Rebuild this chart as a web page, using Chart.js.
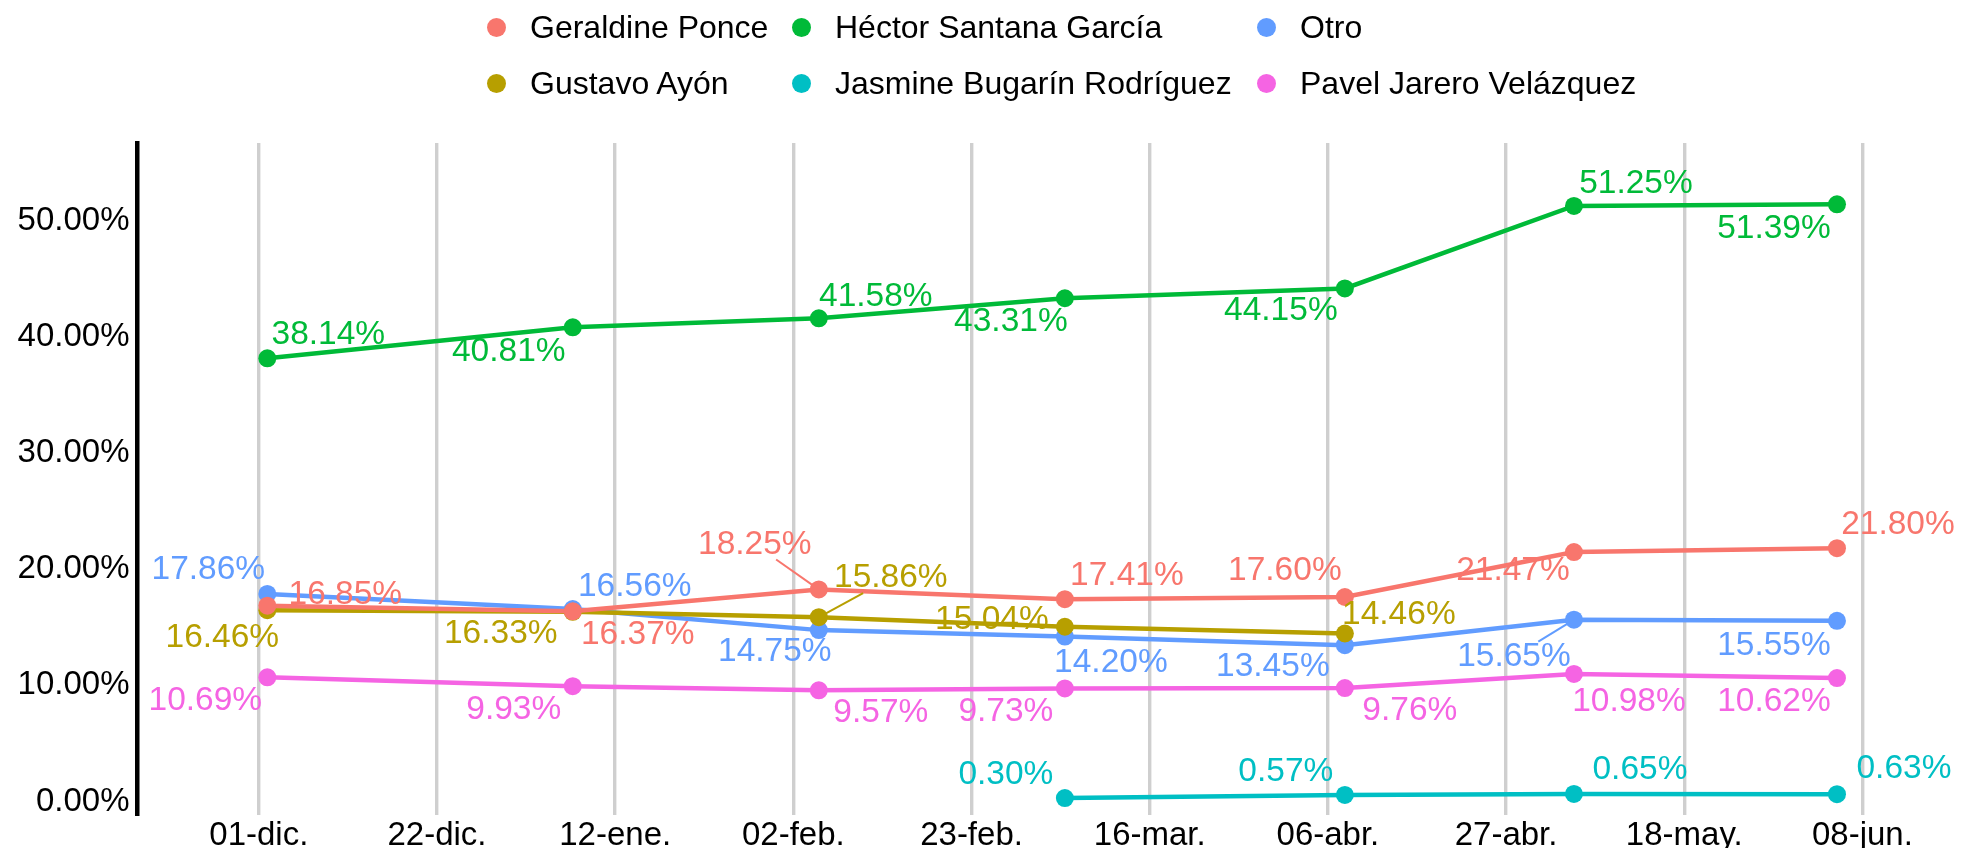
<!DOCTYPE html>
<html>
<head>
<meta charset="utf-8">
<script src="https://cdn.jsdelivr.net/npm/chart.js@4"></script>
<style>
  body { margin: 0; background: #fff; }
  #wrap { position: relative; width: 1969px; height: 848px; }
  #legend {
    position: absolute; left: 487px; top: -1px;
    display: grid; grid-template-columns: 305px 465px auto; grid-template-rows: 56px 56px;
    grid-auto-flow: column;
    font-family: 'Liberation Sans', Arial, sans-serif; font-size: 32px; color: #000;
  }
  .item { display: flex; align-items: center; white-space: nowrap; }
  .dot { width: 19px; height: 19px; border-radius: 50%; margin-right: 24px; flex: none; }
</style>
</head>
<body>
<div id="wrap">
  <canvas id="chart" width="1969" height="848"></canvas>
  <div id="legend"></div>
</div>
<script>
const surveyDates = ['2020-12-02', '2021-01-07', '2021-02-05', '2021-03-06', '2021-04-08', '2021-05-05', '2021-06-05'];
const candidates = ['Geraldine Ponce', 'Gustavo Ayón', 'Héctor Santana García', 'Jasmine Bugarín Rodríguez', 'Otro', 'Pavel Jarero Velázquez'];
const colors = ['#F8766D', '#B79F00', '#00BA38', '#00BFC4', '#619CFF', '#F564E3'];

const geraldine = [16.85, 16.37, 18.25, 17.41, 17.60, 21.47, 21.80];
const gustavo   = [16.46, 16.33, 15.86, 15.04, 14.46, null, null];
const hector    = [38.14, 40.81, 41.58, 43.31, 44.15, 51.25, 51.39];
const jasmine   = [null, null, null, 0.30, 0.57, 0.65, 0.63];
const otro      = [17.86, 16.56, 14.75, 14.20, 13.45, 15.65, 15.55];
const pavel     = [10.69, 9.93, 9.57, 9.73, 9.76, 10.98, 10.62];

const xTickStart = '2020-12-01';
const xTickStepDays = 21;
const xTickLabels = ['01-dic.', '22-dic.', '12-ene.', '02-feb.', '23-feb.', '16-mar.', '06-abr.', '27-abr.', '18-may.', '08-jun.'];
const yTickValues = [0, 10, 20, 30, 40, 50];

// where each value label sits relative to its point (px), third item = draw a leader line
const labelOffsets = [
  [[78, -11], [65, 23], [-64, -45, 1], [62, -23], [-60, -26], [-61, 19], [61, -23]],
  [[-45, 28], [-72, 22], [72, -39, 1], [-73, -7], [54, -19], null, null],
  [[61, -24], [-64, 24], [57, -22], [-54, 24], [-64, 22], [62, -22], [-63, 24]],
  [null, null, null, [-59, -23], [-59, -23], [66, -24], [67, -25]],
  [[-59, -24], [62, -22], [-44, 22], [46, 26], [-72, 22], [-60, 37, 1], [-63, 25]],
  [[-62, 23], [-59, 24], [62, 22], [-59, 23], [65, 23], [55, 28], [-63, 24]]
];

const FONT = "'Liberation Sans', Arial, sans-serif";
const series = [geraldine, gustavo, hector, jasmine, otro, pavel];

function dayOf(s) {
  return (Date.parse(s + 'T00:00:00Z') - Date.parse(xTickStart + 'T00:00:00Z')) / 86400000;
}
const days = surveyDates.map(dayOf);

// html legend, ggplot-like column order
const legendEl = document.getElementById('legend');
candidates.forEach((name, i) => {
  const item = document.createElement('div');
  item.className = 'item';
  item.innerHTML = '<span class="dot" style="background:' + colors[i] + '"></span><span>' + name + '</span>';
  legendEl.appendChild(item);
});

const pointLabels = {
  id: 'pointLabels',
  afterDatasetsDraw(chart) {
    const ctx = chart.ctx;
    const xs = chart.scales.x, ys = chart.scales.y;
    ctx.save();
    ctx.font = '33.5px ' + FONT;
    ctx.textAlign = 'center';
    ctx.textBaseline = 'middle';
    chart.data.datasets.forEach((ds, i) => {
      ds.data.forEach((p, j) => {
        const off = labelOffsets[i][j];
        if (p.y == null || !off) return;
        const px = xs.getPixelForValue(p.x), py = ys.getPixelForValue(p.y);
        const lx = px + off[0], ly = py + off[1];
        const text = p.y.toFixed(2) + '%';
        if (off[2]) {
          const w = ctx.measureText(text).width / 2 + 2, h = 15;
          const dx = px - lx, dy = py - ly;
          const t = Math.min(w / Math.abs(dx), h / Math.abs(dy));
          const len = Math.hypot(dx, dy);
          const e = (len - 5) / len;
          ctx.beginPath();
          ctx.moveTo(lx + dx * t, ly + dy * t);
          ctx.lineTo(lx + dx * e, ly + dy * e);
          ctx.strokeStyle = ds.borderColor;
          ctx.lineWidth = 2;
          ctx.stroke();
        }
        ctx.fillStyle = ds.borderColor;
        ctx.fillText(text, lx, ly);
      });
    });
    ctx.restore();
  }
};

new Chart(document.getElementById('chart'), {
  type: 'line',
  data: {
    datasets: candidates.map((name, i) => ({
      label: name,
      data: days.map((d, j) => ({ x: d, y: series[i][j] })),
      borderColor: colors[i],
      backgroundColor: colors[i],
      borderWidth: 4.5,
      pointRadius: 9,
      pointHoverRadius: 9,
      pointBorderWidth: 0,
      tension: 0,
      spanGaps: false
    }))
  },
  options: {
    responsive: false,
    animation: false,
    layout: { padding: { top: 143, left: 0, right: 0, bottom: 0 } },
    plugins: { legend: { display: false }, tooltip: { enabled: false } },
    scales: {
      x: {
        type: 'linear',
        min: -14.3,
        max: 200.5,
        afterFit(scale) { scale.height = 33; },
        afterBuildTicks(scale) {
          scale.ticks = xTickLabels.map((l, i) => ({ value: i * xTickStepDays }));
        },
        ticks: {
          autoSkip: false,
          maxRotation: 0,
          padding: 1,
          color: '#000',
          font: { family: FONT, size: 33 },
          callback: (v, i) => xTickLabels[i]
        },
        grid: { color: '#cfcfcf', lineWidth: 3.4, drawTicks: false },
        border: { display: false }
      },
      y: {
        min: -1.16,
        max: 56.67,
        afterFit(scale) { scale.width = 137.5; },
        afterBuildTicks(scale) {
          scale.ticks = yTickValues.map(v => ({ value: v }));
        },
        ticks: {
          padding: 8,
          color: '#000',
          font: { family: FONT, size: 33 },
          callback: v => v.toFixed(2) + '%'
        },
        grid: { display: false, drawTicks: false },
        border: { display: true, color: '#000', width: 4.5 }
      }
    }
  },
  plugins: [pointLabels]
});
</script>
</body>
</html>
